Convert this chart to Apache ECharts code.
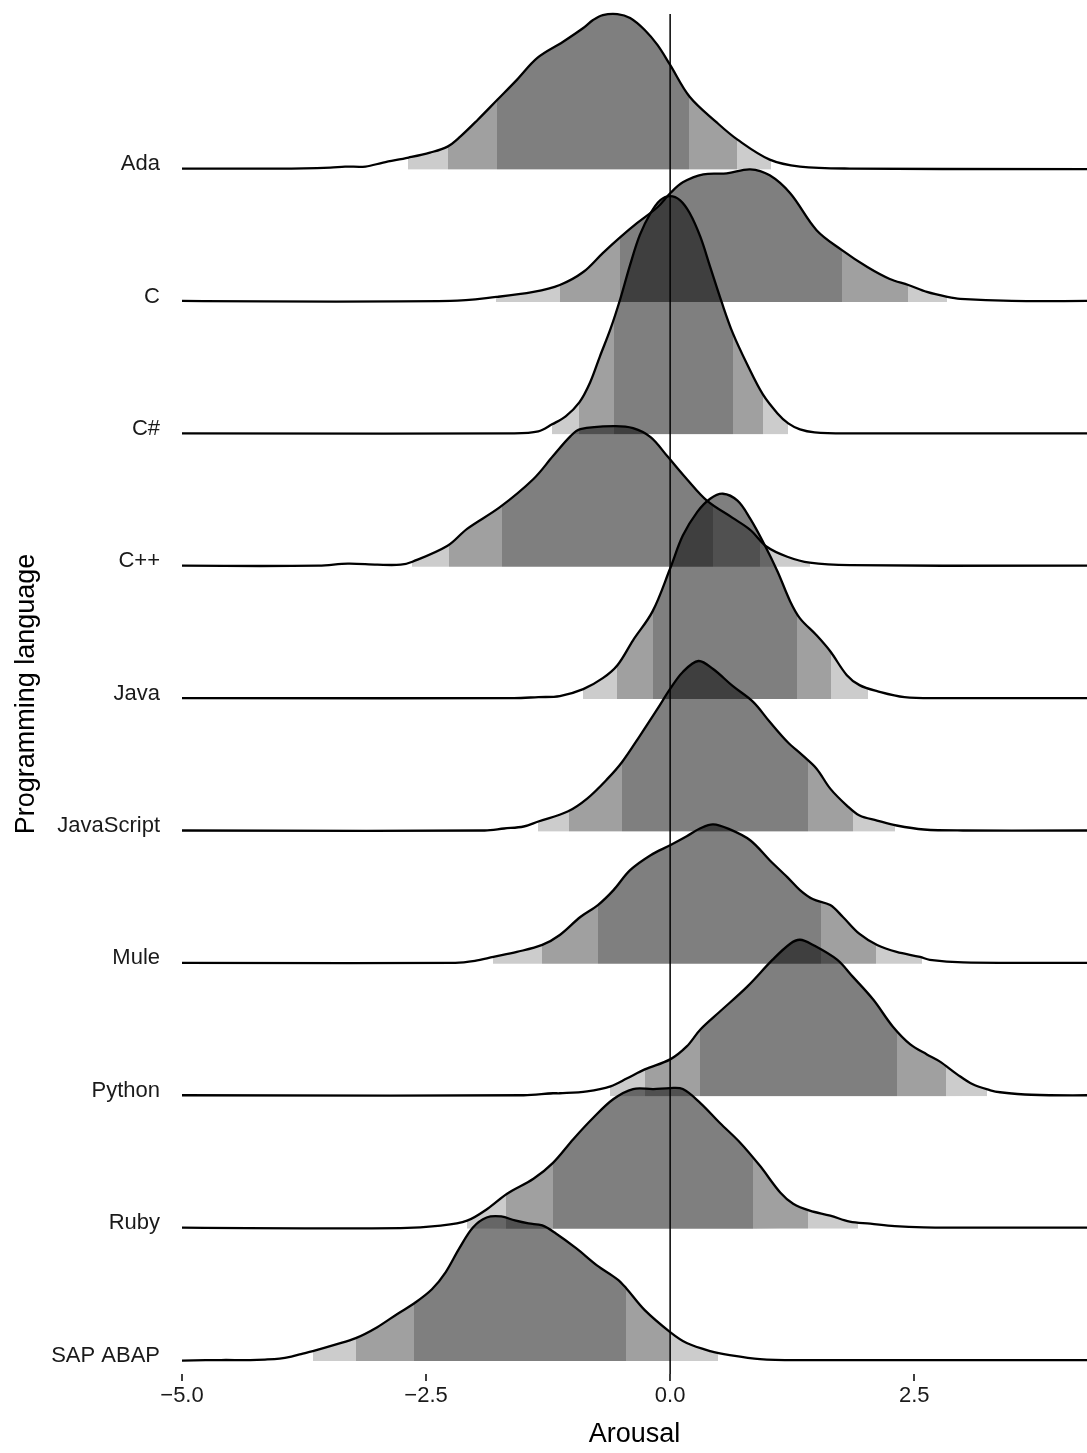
<!DOCTYPE html>
<html>
<head>
<meta charset="utf-8">
<script src="https://cdn.jsdelivr.net/npm/echarts@6/dist/echarts.min.js"></script>
<style>
html,body{margin:0;padding:0;background:#ffffff;}
#chart{width:1087px;height:1453px;}
</style>
</head>
<body>
<div id="chart"></div>
<script>
// ---------- DATA ----------
const languages = ['Ada', 'C', 'C#', 'C++', 'Java', 'JavaScript', 'Mule', 'Python', 'Ruby', 'SAP ABAP'];
const xTicks = [-5, -2.5, 0, 2.5];

// density curves: [arousal, density]
const ada = [[-5.0,0.01],[-4.0,0.01],[-3.48,0.02],[-3.33,0.03],[-3.12,0.03],[-2.94,0.07],[-2.68,0.12],[-2.46,0.17],[-2.28,0.23],[-2.15,0.33],[-1.97,0.50],[-1.77,0.70],[-1.57,0.90],[-1.36,1.12],[-1.10,1.28],[-0.89,1.42],[-0.79,1.50],[-0.69,1.55],[-0.54,1.56],[-0.41,1.52],[-0.26,1.40],[-0.13,1.25],[0,1.05],[0.20,0.73],[0.48,0.47],[0.69,0.30],[1.02,0.10],[1.33,0.03],[1.84,0.01],[4.27,0.005]];
const cLang = [[-5.0,0.01],[-2.25,0.01],[-1.78,0.05],[-1.40,0.10],[-1.13,0.17],[-0.89,0.30],[-0.69,0.49],[-0.51,0.65],[-0.34,0.79],[-0.13,0.95],[0,1.09],[0.13,1.20],[0.34,1.28],[0.58,1.29],[0.82,1.33],[1.02,1.27],[1.23,1.09],[1.50,0.72],[1.76,0.52],[2.02,0.35],[2.25,0.23],[2.44,0.17],[2.63,0.10],[2.84,0.05],[2.97,0.03],[3.5,0.01],[4.27,0.01]];
const cSharp = [[-5.0,0.01],[-1.6,0.01],[-1.35,0.03],[-1.21,0.10],[-1.07,0.18],[-0.93,0.32],[-0.82,0.52],[-0.72,0.78],[-0.61,1.06],[-0.51,1.36],[-0.41,1.70],[-0.31,2.00],[-0.20,2.22],[-0.10,2.35],[0,2.39],[0.10,2.35],[0.20,2.22],[0.31,1.98],[0.41,1.68],[0.53,1.32],[0.64,1.02],[0.79,0.70],[0.95,0.40],[1.10,0.21],[1.21,0.11],[1.33,0.05],[1.48,0.02],[1.8,0.01],[4.27,0.01]];
const cPlusPlus = [[-5.0,0.01],[-3.6,0.01],[-3.3,0.03],[-3.0,0.02],[-2.76,0.02],[-2.64,0.05],[-2.28,0.21],[-2.08,0.38],[-1.74,0.60],[-1.40,0.88],[-1.20,1.11],[-1.02,1.31],[-0.92,1.38],[-0.58,1.41],[-0.38,1.39],[-0.20,1.30],[-0.03,1.11],[0.17,0.88],[0.38,0.66],[0.64,0.49],[0.82,0.37],[0.99,0.20],[1.20,0.10],[1.43,0.04],[1.84,0.015],[4.27,0.01]];
const java = [[-5.0,0.01],[-1.6,0.01],[-1.35,0.02],[-1.13,0.03],[-0.89,0.10],[-0.69,0.21],[-0.54,0.34],[-0.38,0.59],[-0.18,0.88],[0,1.31],[0.13,1.64],[0.28,1.88],[0.41,2.01],[0.54,2.06],[0.69,1.99],[0.82,1.81],[0.95,1.58],[1.10,1.28],[1.23,0.98],[1.33,0.81],[1.50,0.64],[1.64,0.48],[1.81,0.24],[1.94,0.14],[2.12,0.08],[2.4,0.02],[2.8,0.01],[4.27,0.01]];
const javascript = [[-5.0,0.01],[-1.9,0.01],[-1.7,0.03],[-1.5,0.05],[-1.35,0.10],[-1.05,0.20],[-0.85,0.33],[-0.64,0.53],[-0.49,0.70],[-0.31,0.96],[-0.13,1.23],[0,1.43],[0.13,1.60],[0.29,1.71],[0.44,1.63],[0.64,1.46],[0.85,1.30],[1.02,1.10],[1.20,0.90],[1.36,0.76],[1.50,0.63],[1.64,0.43],[1.81,0.26],[1.94,0.16],[2.12,0.11],[2.32,0.06],[2.6,0.02],[3.0,0.01],[4.27,0.01]];
const mule = [[-5.0,0.01],[-2.2,0.01],[-2.0,0.03],[-1.81,0.07],[-1.57,0.12],[-1.31,0.19],[-1.13,0.29],[-0.92,0.47],[-0.74,0.59],[-0.58,0.74],[-0.41,0.94],[-0.20,1.09],[0,1.19],[0.17,1.28],[0.31,1.36],[0.44,1.40],[0.61,1.35],[0.82,1.24],[1.02,1.04],[1.20,0.87],[1.33,0.74],[1.46,0.65],[1.64,0.59],[1.77,0.47],[1.94,0.30],[2.12,0.19],[2.32,0.12],[2.56,0.07],[2.66,0.04],[3.0,0.015],[4.27,0.01]];
const python = [[-5.0,0.01],[-1.5,0.01],[-1.2,0.03],[-1.13,0.03],[-0.85,0.05],[-0.61,0.10],[-0.44,0.18],[-0.26,0.27],[0,0.37],[0.17,0.50],[0.31,0.67],[0.51,0.85],[0.79,1.10],[1.05,1.37],[1.23,1.53],[1.33,1.57],[1.46,1.52],[1.71,1.37],[1.87,1.20],[2.08,0.97],[2.28,0.70],[2.46,0.52],[2.63,0.42],[2.76,0.35],[2.94,0.22],[3.10,0.12],[3.28,0.06],[3.38,0.04],[3.7,0.015],[4.27,0.01]];
const ruby = [[-5.0,0.01],[-2.76,0.005],[-2.35,0.03],[-2.08,0.08],[-1.87,0.20],[-1.67,0.35],[-1.40,0.50],[-1.20,0.66],[-0.99,0.90],[-0.79,1.11],[-0.58,1.30],[-0.38,1.40],[-0.17,1.40],[0,1.41],[0.13,1.40],[0.31,1.26],[0.51,1.06],[0.72,0.86],[0.92,0.63],[1.13,0.36],[1.26,0.25],[1.43,0.18],[1.64,0.13],[1.84,0.07],[2.05,0.05],[2.3,0.025],[2.6,0.012],[3.0,0.01],[4.27,0.01]];
const sapAbap = [[-5.0,0.005],[-4.6,0.01],[-4.3,0.01],[-4.15,0.015],[-4.0,0.025],[-3.88,0.045],[-3.78,0.07],[-3.66,0.10],[-3.43,0.165],[-3.22,0.23],[-3.00,0.34],[-2.79,0.475],[-2.62,0.58],[-2.44,0.72],[-2.30,0.89],[-2.16,1.13],[-2.02,1.34],[-1.88,1.44],[-1.73,1.45],[-1.59,1.41],[-1.45,1.38],[-1.31,1.36],[-1.17,1.28],[-0.96,1.13],[-0.75,0.96],[-0.54,0.82],[-0.45,0.73],[-0.26,0.51],[0,0.29],[0.17,0.18],[0.41,0.10],[0.61,0.06],[0.92,0.02],[1.3,0.01],[4.27,0.01]];

// quantile band breaks: light | medium | dark | medium | light
const adaBreaks = [-2.68,-2.28,-1.77,0.19,0.69,1.03];
const cBreaks = [-1.78,-1.13,-0.51,1.76,2.44,2.84];
const cSharpBreaks = [-1.21,-0.93,-0.58,0.64,0.95,1.21];
const cPlusPlusBreaks = [-2.64,-2.26,-1.72,0.44,0.92,1.43];
const javaBreaks = [-0.89,-0.54,-0.18,1.30,1.65,2.03];
const javascriptBreaks = [-1.35,-1.04,-0.49,1.41,1.87,2.30];
const muleBreaks = [-1.81,-1.31,-0.74,1.55,2.11,2.58];
const pythonBreaks = [-0.62,-0.26,0.31,2.32,2.83,3.25];
const rubyBreaks = [-2.08,-1.68,-1.20,0.85,1.41,1.92];
const sapAbapBreaks = [-3.66,-3.22,-2.62,-0.45,0.0,0.49];

const densities = [ada, cLang, cSharp, cPlusPlus, java, javascript, mule, python, ruby, sapAbap];
const breaks = [adaBreaks, cBreaks, cSharpBreaks, cPlusPlusBreaks, javaBreaks, javascriptBreaks, muleBreaks, pythonBreaks, rubyBreaks, sapAbapBreaks];

// ---------- LAYOUT / STYLE ----------
const X_MIN = -5, X_MAX = 4.27;
const Y_MIN = -0.098, Y_MAX = 10.175;
const DENSITY_SCALE = 0.753;
const SMOOTH = 0.35;
const FONT = '"Liberation Sans", Arial, Helvetica, sans-serif';
const bandFills = ['rgba(0,0,0,0.2)', 'rgba(0,0,0,0.373)', 'rgba(0,0,0,0.5)', 'rgba(0,0,0,0.373)', 'rgba(0,0,0,0.2)'];
const N = languages.length;

function renderRidge(params, api) {
  const i = params.dataIndex;
  const base = N - 1 - i;
  const pts = densities[i].map(function (p) { return api.coord([p[0], base + p[1] * DENSITY_SCALE]); });
  const baseY = api.coord([0, base])[1];
  const topY = api.coord([0, Y_MAX])[1] - 20;
  const poly = pts.concat([[pts[pts.length - 1][0], baseY], [pts[0][0], baseY]]);
  const q = breaks[i];
  const children = [];
  for (let k = 0; k < 5; k++) {
    const xa = Math.round(api.coord([q[k], base])[0]);
    const xb = Math.round(api.coord([q[k + 1], base])[0]);
    children.push({
      type: 'polygon',
      z2: i * 10 + k,
      shape: { points: poly, smooth: SMOOTH },
      style: { fill: bandFills[k], stroke: 'none' },
      clipPath: { type: 'rect', shape: { x: xa, y: topY, width: xb - xa, height: baseY - topY } }
    });
  }
  children.push({
    type: 'polyline',
    z2: i * 10 + 7,
    shape: { points: pts, smooth: SMOOTH },
    style: { stroke: '#000000', lineWidth: 2.3, fill: 'none', lineJoin: 'round' }
  });
  return { type: 'group', children: children };
}

const chart = echarts.init(document.getElementById('chart'), null, { renderer: 'canvas' });
chart.setOption({
  animation: false,
  backgroundColor: '#ffffff',
  grid: { left: 182, right: 0, top: 14, bottom: 75, containLabel: false },
  xAxis: {
    type: 'value', min: X_MIN, max: X_MAX, interval: 2.5,
    axisLine: { show: false, onZero: false },
    axisTick: { show: true, length: 7, lineStyle: { color: '#000', width: 1.5 }, customValues: xTicks },
    axisLabel: {
      customValues: xTicks,
      fontSize: 22, color: '#1a1a1a', fontFamily: FONT, margin: 11,
      formatter: function (v) { return Number(v).toFixed(1).replace('-', '\u2212'); }
    },
    splitLine: { show: false },
    name: 'Arousal', nameLocation: 'middle', nameGap: 47,
    nameTextStyle: { fontSize: 27, color: '#000', fontFamily: FONT }
  },
  yAxis: {
    type: 'value', min: Y_MIN, max: Y_MAX,
    axisLine: { show: false, onZero: false }, axisTick: { show: false }, splitLine: { show: false },
    axisLabel: {
      customValues: languages.map(function (_, i) { return i; }),
      fontSize: 22, color: '#1a1a1a', fontFamily: FONT, margin: 22,
      verticalAlign: 'bottom', lineHeight: 11,
      formatter: function (v) { return languages[N - 1 - Math.round(v)]; }
    },
    name: 'Programming language', nameLocation: 'middle', nameGap: 135, nameRotate: 90,
    nameTextStyle: { fontSize: 27, color: '#000', fontFamily: FONT }
  },
  series: [
    {
      type: 'custom', clip: false, silent: true, z: 2,
      renderItem: renderRidge,
      data: languages.map(function (name, i) { return [i]; })
    },
    {
      type: 'line', silent: true, z: 5, symbol: 'none',
      data: [[0, Y_MIN], [0, Y_MAX]],
      lineStyle: { color: '#000', width: 1.5 }
    }
  ]
});
</script>
</body>
</html>
